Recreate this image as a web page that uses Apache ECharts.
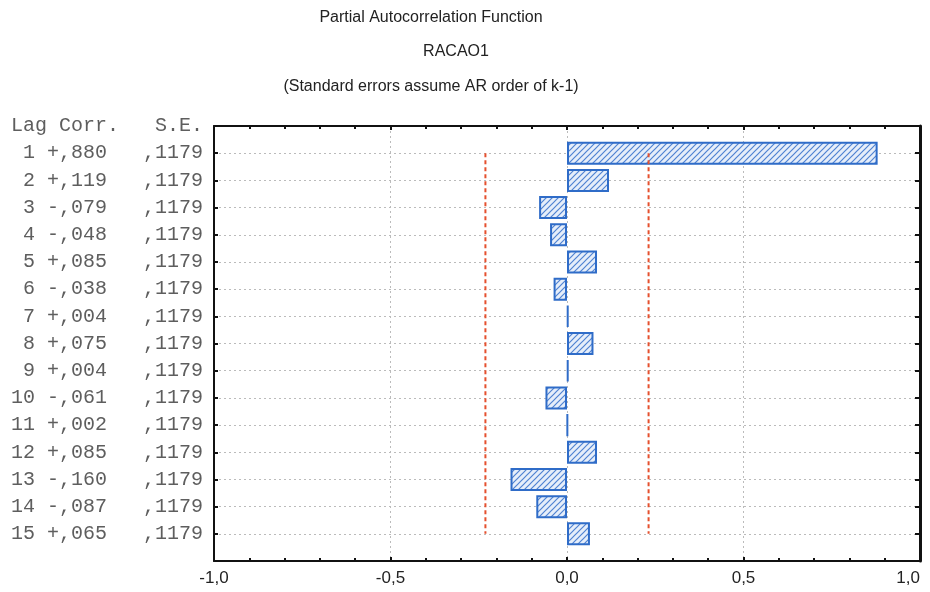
<!DOCTYPE html>
<html>
<head>
<meta charset="utf-8">
<script src="https://cdn.jsdelivr.net/npm/echarts@6/dist/echarts.min.js"></script>
<style>
html,body{margin:0;padding:0;background:#fff;}
#main{width:930px;height:592px;}
</style>
</head>
<body>
<div id="main"></div>
<script>
var lags = [1,2,3,4,5,6,7,8,9,10,11,12,13,14,15];
var corr = [0.880,0.119,-0.079,-0.048,0.085,-0.038,0.004,0.075,0.004,-0.061,0.002,0.085,-0.160,-0.087,0.065];
var se = [0.1179,0.1179,0.1179,0.1179,0.1179,0.1179,0.1179,0.1179,0.1179,0.1179,0.1179,0.1179,0.1179,0.1179,0.1179];
var limit = 0.2311;   // 1.96 * S.E.
var xTicks = ['-1,0','-0,5','0,0','0,5','1,0'];

var myChart = echarts.init(document.getElementById('main'));

// 斜线填充
function hatch(){
    var c = document.createElement('canvas');
    c.width = 6; c.height = 6;
    var g = c.getContext('2d');
    g.fillStyle = '#e6eefa';
    g.fillRect(0,0,6,6);
    g.strokeStyle = '#4f82d2';
    g.lineWidth = 1.2;
    g.beginPath();
    g.moveTo(0,6); g.lineTo(6,0);
    g.moveTo(-1,1); g.lineTo(1,-1);
    g.moveTo(5,7); g.lineTo(7,5);
    g.stroke();
    return c;
}

function fmtCorr(v){
    var s = String(Math.round(Math.abs(v)*1000));
    while (s.length < 3) s = '0' + s;
    return (v < 0 ? '-' : '+') + ',' + s;
}
function fmtSe(v){
    return ',' + String(Math.round(v*10000));
}

// 行标签（第0行放表头）
var rows = ['Lag Corr.   S.E.'];
var barData = ['-'];
for (var i = 0; i < lags.length; i++) {
    var l = String(lags[i]);
    if (l.length < 2) l = ' ' + l;
    rows.push(l + ' ' + fmtCorr(corr[i]) + '   ' + fmtSe(se[i]));
    barData.push(corr[i]);
}
rows.push('');
barData.push('-');

var redStyle = {color:'#e5502e', width:2, type:[4,3]};

myChart.setOption({
    animation: false,
    graphic: [
        {type:'text', x:431, y:18, style:{text:'Partial Autocorrelation Function', font:'16px "Liberation Sans", Arial', fill:'#222', align:'center', verticalAlign:'middle'}},
        {type:'text', x:456, y:52, style:{text:'RACAO1', font:'16px "Liberation Sans", Arial', fill:'#222', align:'center', verticalAlign:'middle'}},
        {type:'text', x:431, y:87, style:{text:'(Standard errors assume AR order of k-1)', font:'16px "Liberation Sans", Arial', fill:'#222', align:'center', verticalAlign:'middle'}}
    ],
    grid: {left:214, right:10, top:126, bottom:31, containLabel:false, outerBoundsMode:'none'},
    xAxis: [{
        type:'value', min:-1, max:1, interval:0.5, position:'bottom',
        axisLine:{show:true, onZero:false, lineStyle:{color:'#111', width:2}},
        axisTick:{show:true, inside:true, length:4, lineStyle:{color:'#111', width:2}},
        minorTick:{show:true, splitNumber:5, length:3, lineStyle:{color:'#111', width:2}},
        splitLine:{show:true, lineStyle:{color:'#bbb', type:[2,3], width:1}},
        axisLabel:{
            margin:9, fontSize:17, color:'#222', fontFamily:'"Liberation Sans", Arial',
            alignMaxLabel:'right',
            formatter:function(v){ return xTicks[Math.round((v+1)*2)]; }
        }
    },{
        type:'value', min:-1, max:1, interval:0.5, position:'top',
        axisLine:{show:true, onZero:false, lineStyle:{color:'#111', width:2}},
        axisTick:{show:true, inside:true, length:4, lineStyle:{color:'#111', width:2}},
        minorTick:{show:true, splitNumber:5, length:3, lineStyle:{color:'#111', width:2}},
        splitLine:{show:false},
        axisLabel:{show:false}
    }],
    yAxis: [{
        type:'category', data:rows, inverse:true, boundaryGap:false, position:'left',
        axisLine:{show:true, onZero:false, lineStyle:{color:'#111', width:2}},
        axisTick:{show:true, inside:true, length:4, interval:0, lineStyle:{color:'#111', width:2}},
        splitLine:{show:true, interval:0, lineStyle:{color:'#bbb', type:[2,3], width:1}},
        axisLabel:{
            interval:0, margin:11, fontSize:20, color:'#5e5e5e',
            fontFamily:'"Liberation Mono", "DejaVu Sans Mono", monospace'
        }
    },{
        type:'category', data:rows, inverse:true, boundaryGap:false, position:'right',
        axisLine:{show:true, onZero:false, lineStyle:{color:'#111', width:3}},
        axisTick:{show:true, inside:true, length:5, interval:0, lineStyle:{color:'#111', width:2}},
        splitLine:{show:false},
        axisLabel:{show:false}
    }],
    series: [{
        type:'bar',
        data:barData,
        barWidth:23,
        itemStyle:{
            color:{image:hatch(), repeat:'repeat'},
            borderColor:'#2f6cc8',
            borderWidth:2
        }
    },{
        type:'line', symbol:'none', silent:true,
        data:[[-limit,1],[-limit,15]],
        lineStyle:redStyle
    },{
        type:'line', symbol:'none', silent:true,
        data:[[limit,1],[limit,15]],
        lineStyle:redStyle
    }]
});
</script>
</body>
</html>
